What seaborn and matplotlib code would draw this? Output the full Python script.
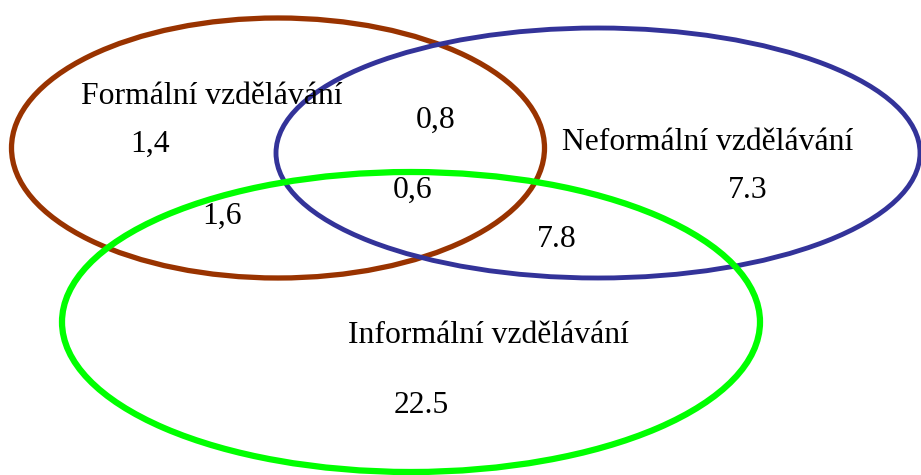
import matplotlib
matplotlib.use("Agg")
import matplotlib.pyplot as plt
from matplotlib.patches import Ellipse
import seaborn as sns

# Sets of the diagram
set_names = ["Formální vzdělávání", "Neformální vzdělávání", "Informální vzdělávání"]
set_colors = ["#993300", "#333399", "#00ff00"]

# Values of the regions (as written in the original)
region_values = ["1,4", "0,8", "7.3", "0,6", "1,6", "7.8", "22.5"]

# Layout of the diagram (pixel space, y downwards)
ellipse_xy = [(278, 148), (598, 153), (411, 322)]
ellipse_wh = [(533, 260), (644, 250), (698, 300)]
ellipse_lw = [3.8, 3.5, 4.5]
name_xy = [(212, 104), (708, 150), (488, 343)]
value_xy = [(150, 152), (436, 128), (748, 198), (413, 198), (222, 224), (557, 247), (421, 413)]

sns.set_theme(style="white")
plt.rcParams["font.family"] = ["Liberation Serif", "DejaVu Serif"]

fig = plt.figure(figsize=(9.21, 4.75), dpi=100)
ax = fig.add_axes([0, 0, 1, 1])
ax.set_xlim(0, 921)
ax.set_ylim(475, 0)
ax.axis("off")

for (cx, cy), (w, h), col, lw in zip(ellipse_xy, ellipse_wh, set_colors, ellipse_lw):
    ax.add_patch(Ellipse((cx, cy), w, h, fill=False, edgecolor=col, linewidth=lw))

for name, (x, y) in zip(set_names, name_xy):
    ax.text(x, y, name, ha="center", va="baseline", fontsize=22.8, color="black")

for val, (x, y) in zip(region_values, value_xy):
    ax.text(x, y, val, ha="center", va="baseline", fontsize=22.8, color="black")

fig.savefig("out.png", dpi=100)
